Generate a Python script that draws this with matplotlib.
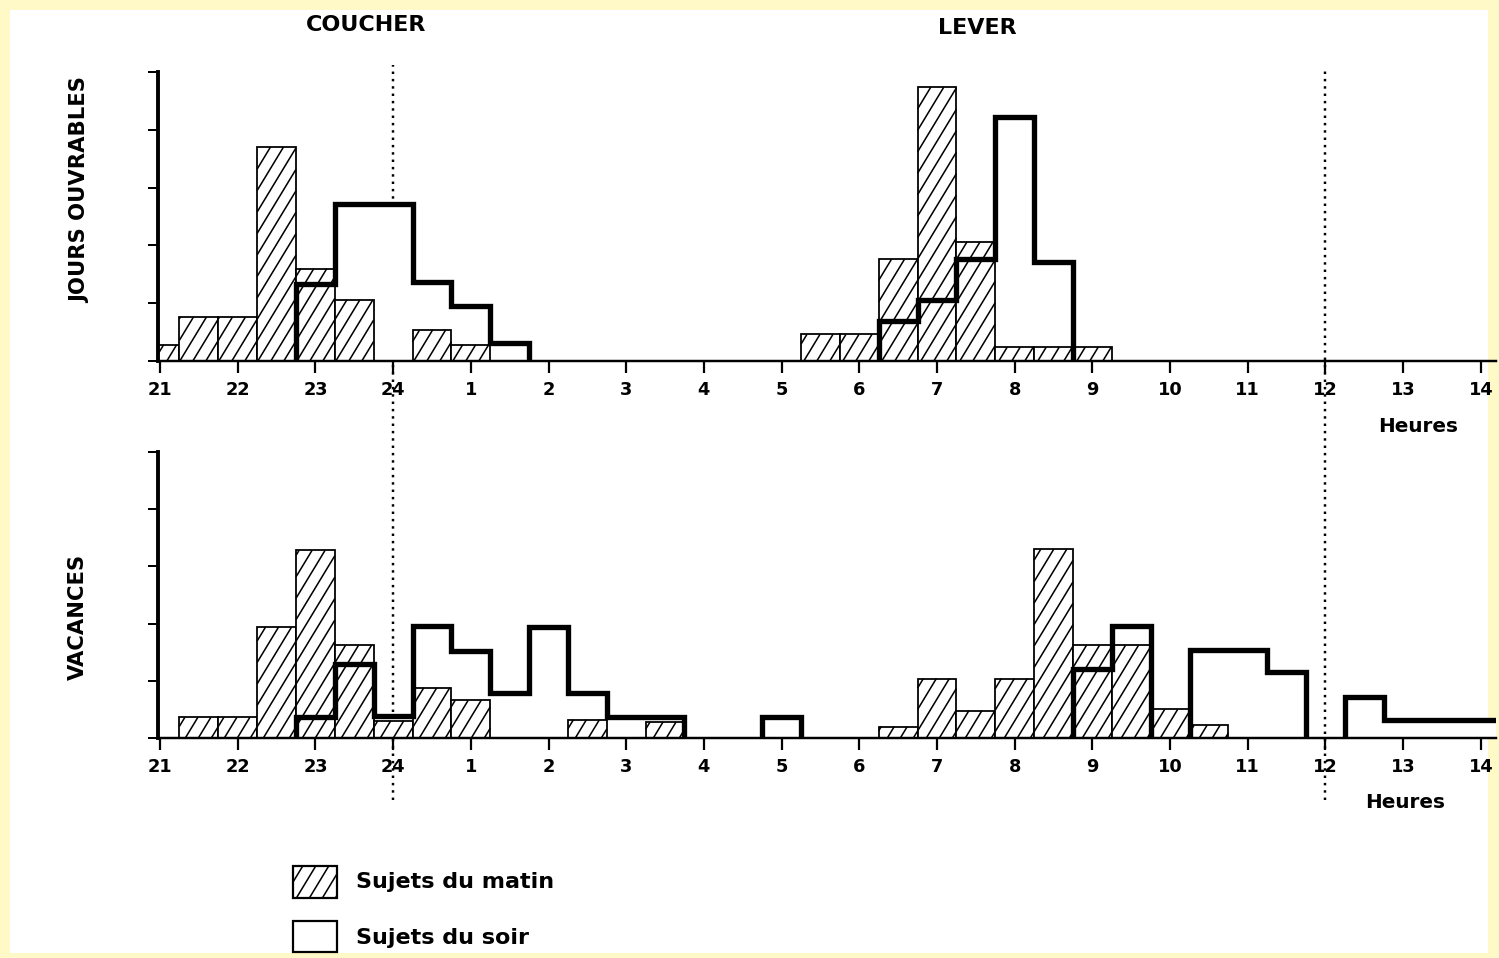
import numpy as np
import matplotlib
matplotlib.use("Agg")
import matplotlib.pyplot as plt
from matplotlib.patches import Rectangle
from matplotlib.lines import Line2D
from matplotlib.collections import LineCollection
from matplotlib import transforms

# Half-hour classes centred on 21:00, 21:30, ... up to 14:00 the next day
# (clock hours are counted continuously from 21 to 38).
bin_centers = np.arange(21.0, 38.01, 0.5)
bin_edges = np.arange(20.75, 38.26, 0.5)

hour_ticks = list(range(21, 39))
hour_labels = ["21", "22", "23", "24", "1", "2", "3", "4", "5", "6",
               "7", "8", "9", "10", "11", "12", "13", "14"]

# Frequencies (%) per half-hour class -- working days
ouvrables_matin = [1.4, 3.8, 3.8, 18.5, 8.0, 5.3, 0, 2.7, 1.4, 0, 0, 0, 0, 0, 0, 0, 0,
                   2.3, 2.3, 8.8, 23.7, 10.3, 1.2, 1.2, 1.2, 0, 0, 0, 0, 0, 0, 0, 0, 0, 0]
ouvrables_soir = [0, 0, 0, 0, 6.7, 13.6, 13.6, 6.8, 4.8, 1.6, 0, 0, 0, 0, 0, 0, 0, 0, 0,
                  3.5, 5.3, 8.8, 21.1, 8.6, 0, 0, 0, 0, 0, 0, 0, 0, 0, 0, 0]

# Frequencies (%) per half-hour class -- holidays
vacances_matin = [0, 1.8, 1.8, 9.7, 16.4, 8.1, 1.5, 4.4, 3.3, 0, 0, 1.6, 0, 1.4, 0, 0, 0, 0, 0,
                  1.0, 5.2, 2.4, 5.2, 16.5, 8.1, 8.1, 2.5, 1.1, 0, 0, 0, 0, 0, 0, 0]
vacances_soir = [0, 0, 0, 0, 1.8, 6.5, 1.9, 9.8, 7.6, 3.9, 9.7, 3.9, 1.8, 1.8, 0, 0, 1.8,
                 0, 0, 0, 0, 0, 0, 0, 6.0, 9.8, 0, 7.7, 7.7, 5.8, 0, 3.6, 1.6, 1.6, 1.6]

y_ticks = [0, 5, 10, 15, 20, 25]

plt.rcParams["font.family"] = ["DejaVu Sans"]

W, H, DPI = 1499, 958, 80
fig = plt.figure(figsize=(W / DPI, H / DPI), dpi=DPI, facecolor="#fff9c8")

# white sheet inside the pale yellow border
fig.add_artist(Rectangle((10 / W, 5 / H), 1478 / W, 943 / H, transform=fig.transFigure,
                         facecolor="white", edgecolor="none", zorder=-2))

x_left, x_right = 20.97, 38.2
ax_left = 157.7 / W
ax_width = (1496.4 - 157.7) / W
ax_top = fig.add_axes([ax_left, (H - 361) / H, ax_width, 289 / H])
ax_bot = fig.add_axes([ax_left, (H - 738) / H, ax_width, 286 / H])

# steep single hatching, in device pixels
HATCH_STEP = 13.0
HATCH_SLOPE = 1.65
HATCH_LW = 1.4


def hatch_segments(x0, y0, x1, y1):
    """Parallel '/' strokes filling the pixel box (x0, y0)-(x1, y1), cut at its edges."""
    segs = []
    k_min = int(np.floor((x0 - y1 / HATCH_SLOPE) / HATCH_STEP)) - 1
    k_max = int(np.ceil((x1 - y0 / HATCH_SLOPE) / HATCH_STEP)) + 1
    for k in range(k_min, k_max + 1):
        c = k * HATCH_STEP
        ya = max(y0, HATCH_SLOPE * (x0 - c))
        yb = min(y1, HATCH_SLOPE * (x1 - c))
        if yb - ya > 0.5:
            segs.append([(c + ya / HATCH_SLOPE, ya), (c + yb / HATCH_SLOPE, yb)])
    return segs


def hatch_artist(bbox, zorder):
    return LineCollection(hatch_segments(bbox.x0, bbox.y0, bbox.x1, bbox.y1),
                          transform=transforms.IdentityTransform(),
                          colors="black", linewidths=HATCH_LW, zorder=zorder)


def draw_panel(ax, matin, soir):
    ax.set_xlim(x_left, x_right)
    ax.set_ylim(0, 25)

    matin = np.asarray(matin, dtype=float)
    soir = np.asarray(soir, dtype=float)
    soir_groups = np.where(soir > 0, soir, np.nan)

    # opaque body of the evening classes
    ax.stairs(soir_groups, bin_edges, baseline=0, fill=True, color="white",
              linewidth=0, zorder=1)
    # morning classes, hatched
    keep = matin > 0
    bars = ax.bar(bin_centers[keep], matin[keep], width=0.5, align="center",
                  facecolor="white", edgecolor="black", linewidth=1.6, zorder=2)
    ax_box = ax.get_window_extent()
    for rect in bars:
        bb = transforms.Bbox.intersection(rect.get_window_extent(), ax_box)
        if bb is not None:
            ax.add_collection(hatch_artist(bb, 2.1), autolim=False)
    # heavy outline of the evening classes
    ax.stairs(soir_groups, bin_edges, baseline=0, fill=False, color="black",
              linewidth=4.8, zorder=3)

    ax.set_facecolor("none")
    ax.set_xticks(hour_ticks)
    ax.set_xticklabels(hour_labels, fontsize=16, fontweight="bold")
    ax.set_yticks(y_ticks)
    ax.set_yticklabels([])
    ax.tick_params(axis="x", direction="out", length=11, width=2, pad=7, color="black")
    ax.tick_params(axis="y", direction="out", length=9, width=1.8, color="black")
    for side in ("top", "right"):
        ax.spines[side].set_visible(False)
    ax.spines["left"].set_linewidth(3.5)
    ax.spines["bottom"].set_linewidth(2.2)


draw_panel(ax_top, ouvrables_matin, ouvrables_soir)
draw_panel(ax_bot, vacances_matin, vacances_soir)

# dotted references at midnight and noon, running through both panels
vline_tf = transforms.blended_transform_factory(ax_top.transData, fig.transFigure)
for xv, y0, y1 in [(24, 1 - 800 / H, 1 - 65 / H), (36, 1 - 800 / H, 1 - 68 / H)]:
    fig.add_artist(Line2D([xv, xv], [y0, y1], transform=vline_tf, color="black",
                          linewidth=2.2, linestyle=(0, (1, 2)), zorder=-1))

# axis captions
fig.text(1418 / W, 1 - 427 / H, "Heures", ha="center", va="center",
         fontsize=18, fontweight="bold")
fig.text(1405 / W, 1 - 802 / H, "Heures", ha="center", va="center",
         fontsize=18, fontweight="bold")

fig.text(366 / W, 1 - 25 / H, "COUCHER", ha="center", va="center",
         fontsize=20, fontweight="bold")
fig.text(977 / W, 1 - 28 / H, "LEVER", ha="center", va="center",
         fontsize=20, fontweight="bold")

fig.text(80 / W, 1 - 190 / H, "JOURS OUVRABLES", rotation=90, ha="center", va="center",
         fontsize=19, fontweight="bold")
fig.text(78 / W, 1 - 617 / H, "VACANCES", rotation=90, ha="center", va="center",
         fontsize=19, fontweight="bold")

# legend
key_matin = Rectangle((293 / W, (H - 898) / H), 44 / W, 32 / H, transform=fig.transFigure,
                      facecolor="white", edgecolor="black", linewidth=2)
key_soir = Rectangle((293 / W, (H - 952) / H), 44 / W, 31 / H, transform=fig.transFigure,
                     facecolor="white", edgecolor="black", linewidth=2)
fig.add_artist(key_matin)
fig.add_artist(key_soir)
fig.add_artist(hatch_artist(key_matin.get_window_extent(), key_matin.get_zorder() + 0.1))
fig.text(356 / W, 1 - 882 / H, "Sujets du matin", ha="left", va="center",
         fontsize=20, fontweight="bold")
fig.text(356 / W, 1 - 938 / H, "Sujets du soir", ha="left", va="center",
         fontsize=20, fontweight="bold")

fig.savefig("out.png", dpi=DPI, facecolor=fig.get_facecolor())
